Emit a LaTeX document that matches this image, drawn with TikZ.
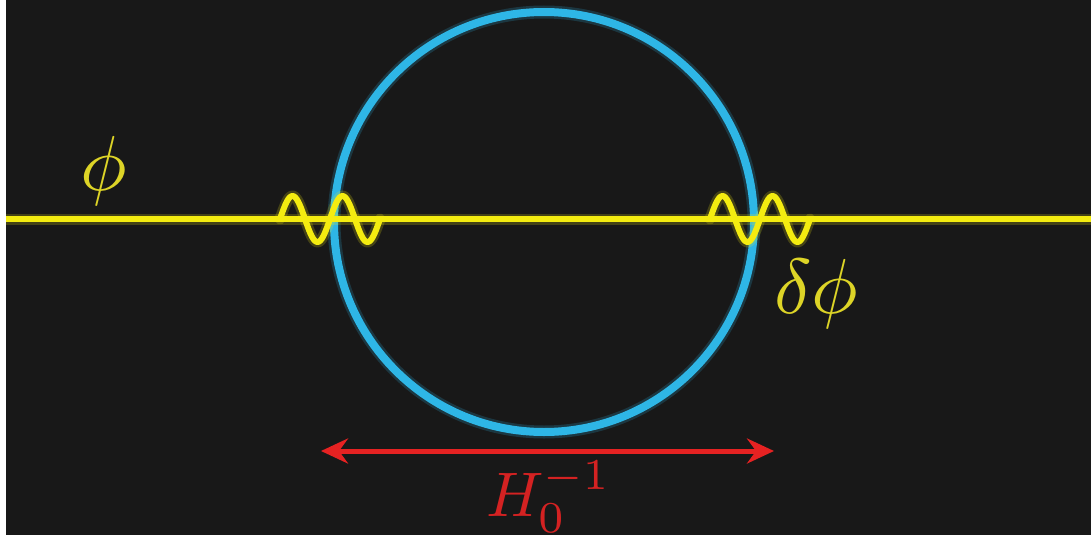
\documentclass[tikz,border=0pt]{standalone}
\usetikzlibrary{arrows.meta}
\definecolor{bg}{HTML}{181818}
\definecolor{fieldyellow}{HTML}{F4EC10}
\definecolor{labelyellow}{HTML}{DDD427}
\definecolor{horizonblue}{HTML}{2EB6E6}
\definecolor{arrowred}{HTML}{E62222}
\definecolor{labelred}{HTML}{D42222}
\tikzset{
  fieldline/.style={draw=fieldyellow, line width=6pt},
  waveline/.style={draw=fieldyellow, line width=6pt, line cap=round, line join=round},
  glowyellow/.style={draw=fieldyellow, opacity=0.2, line width=11pt, line cap=round, line join=round},
  horizon/.style={circle, draw=horizonblue, line width=8pt, minimum size=420pt, inner sep=0pt},
  glowblue/.style={circle, draw=horizonblue, opacity=0.2, line width=13pt, minimum size=420pt, inner sep=0pt},
  scalearrow/.style={draw=arrowred, line width=5pt, {Stealth[length=27pt,width=25pt,inset=9pt]}-{Stealth[length=27pt,width=25pt,inset=9pt]}},
  biglabel/.style={inner sep=0pt, outer sep=0pt, font=\fontsize{10}{12}\selectfont, scale=7.8},
  hlabel/.style={inner sep=0pt, outer sep=0pt, font=\fontsize{10}{12}\selectfont, scale=6.3}
}
\begin{document}
\begin{tikzpicture}[x=1pt, y=-1pt]
\useasboundingbox (0,0) rectangle (1091,535);
\fill[white] (0,0) rectangle (1091,535);
\fill[bg] (6,0) rectangle (1091,535);
% horizon circle
\node[glowblue] at (544,222) {};
\node[horizon] (horizon) at (544,222) {};
% field line
\coordinate (fieldL) at (6,219);
\coordinate (fieldR) at (1091,219);
\draw[glowyellow, line cap=butt] (fieldL) -- (fieldR);
\draw[fieldline] (fieldL) -- (fieldR);
% perturbations
\draw[glowyellow] plot[domain=0:100, samples=80, smooth] ({280+\x}, {219-23*sin(7.2*\x)});
\draw[waveline] plot[domain=0:100, samples=80, smooth] ({280+\x}, {219-23*sin(7.2*\x)});
\draw[glowyellow] plot[domain=0:100, samples=80, smooth] ({710+\x}, {219-23*sin(7.2*\x)});
\draw[waveline] plot[domain=0:100, samples=80, smooth] ({710+\x}, {219-23*sin(7.2*\x)});
% labels
\node[biglabel, text=labelyellow, anchor=base west] (phi) at (80,190) {$\phi$};
\node[biglabel, text=labelyellow, anchor=base west] (dphi) at (774,313) {$\delta\phi$};
% arrow
\coordinate (arrL) at (321,451);
\coordinate (arrR) at (774,451);
\draw[scalearrow] (arrL) -- (arrR);
\node[hlabel, text=labelred, anchor=base west] (hubble) at (486,516) {$H_0^{-1}$};
\end{tikzpicture}
\end{document}
